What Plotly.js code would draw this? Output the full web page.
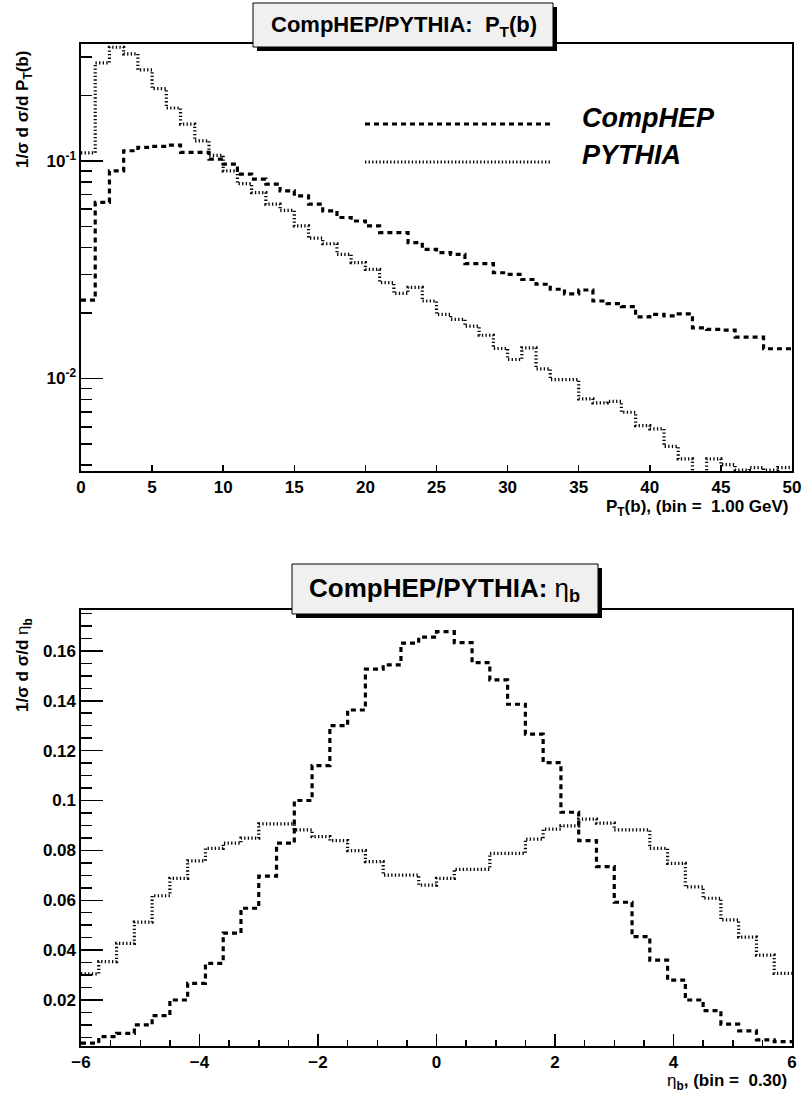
<!DOCTYPE html>
<html>
<head>
<meta charset="utf-8">
<script src="https://cdn.plot.ly/plotly-3.0.1.min.js"></script>
<style>
html,body{margin:0;padding:0;background:#fff;}
#chart{width:802px;height:1096px;}
</style>
</head>
<body>
<div id="chart"></div>
<script>
// ---------- data ----------
// P_T(b) histogram: 50 bins of 1 GeV from 0 to 50
var ptBinLow = 0;
var ptBinWidth = 1;
var comphepPt = [0.0229,0.0644,0.0899,0.1112,0.1153,0.1165,0.1181,0.1093,0.1093,0.1018,
                 0.0966,0.0869,0.0824,0.0781,0.0728,0.0690,0.0632,0.0589,0.0549,0.0529,
                 0.0502,0.0468,0.0468,0.0421,0.0392,0.0379,0.0372,0.0337,0.0337,0.0306,
                 0.0301,0.0285,0.0271,0.0257,0.0245,0.0255,0.0227,0.0221,0.0214,0.0192,
                 0.0197,0.0194,0.0198,0.0171,0.0168,0.0167,0.0155,0.0155,0.0137,0.0137];
var pythiaPt  = [0.1088,0.2816,0.3324,0.3097,0.2615,0.2145,0.1748,0.1475,0.1236,0.1059,
                 0.0899,0.0785,0.0715,0.0632,0.0592,0.0502,0.0441,0.0416,0.0372,0.0341,
                 0.0317,0.0276,0.0246,0.0262,0.0227,0.0197,0.0187,0.0174,0.0158,0.01374,
                 0.01223,0.01384,0.01108,0.00989,0.00989,0.00806,0.00773,0.00786,0.0070,0.00608,
                 0.00587,0.00488,0.00427,0.0036,0.00427,0.00402,0.0038,0.0039,0.0038,0.0039];
// eta_b histogram: 40 bins of 0.30 from -6 to 6
var etaBinLow = -6;
var etaBinWidth = 0.3;
var comphepEta = [0.0027,0.0053,0.0066,0.0100,0.0137,0.0200,0.0267,0.0347,0.0468,0.0568,
                  0.0697,0.0829,0.1000,0.1140,0.1300,0.1363,0.1527,0.1544,0.1631,0.1655,
                  0.1677,0.1633,0.1553,0.1484,0.1386,0.1266,0.1152,0.0953,0.0839,0.0735,
                  0.0592,0.0454,0.0360,0.0280,0.0200,0.0157,0.0103,0.0076,0.0040,0.0033];
var pythiaEta  = [0.0305,0.0354,0.0427,0.0512,0.0618,0.0688,0.0758,0.0808,0.0829,0.0849,
                  0.0906,0.0906,0.0882,0.0855,0.0839,0.0799,0.0755,0.0701,0.0701,0.0661,
                  0.0688,0.0724,0.0724,0.0788,0.0788,0.0845,0.0885,0.0898,0.0925,0.0909,
                  0.0882,0.0882,0.0808,0.0748,0.0654,0.0608,0.0521,0.0452,0.0380,0.0307];
var seriesNames = ['CompHEP','PYTHIA'];
var ptTickVals = [0.01, 0.1];
var ptTickText = ['10<sup>-2</sup>','10<sup>-1</sup>'];
var ptMinorVals = [0.004,0.005,0.006,0.007,0.008,0.009,0.02,0.03,0.04,0.05,0.06,0.07,0.08,0.09,0.2,0.3];

// ---------- helpers ----------
function stepXY(low, width, vals){
  var x = [], y = [];
  for (var i = 0; i < vals.length; i++){ x.push(low + i*width); y.push(vals[i]); }
  x.push(low + vals.length*width); y.push(vals[vals.length-1]);
  return {x:x, y:y};
}
var W = 802, H = 1096;
function px(v){ return v / W; }
function py(v){ return 1 - v / H; }

var FB = 'Liberation Sans, Arial, sans-serif';

var dashStyle = {color:'#000', width:3.2, dash:'5px,4px', shape:'hv'};
var dotStyle  = {color:'#000', width:3.2, dash:'1.3px,2.3px', shape:'hv'};

var a = stepXY(ptBinLow, ptBinWidth, comphepPt);
var b = stepXY(ptBinLow, ptBinWidth, pythiaPt);
var c = stepXY(etaBinLow, etaBinWidth, comphepEta);
var d = stepXY(etaBinLow, etaBinWidth, pythiaEta);

var traces = [
  {x:a.x, y:a.y, xaxis:'x', yaxis:'y', mode:'lines', line:dashStyle, name:seriesNames[0], showlegend:false, hoverinfo:'skip'},
  {x:b.x, y:b.y, xaxis:'x', yaxis:'y', mode:'lines', line:dotStyle, name:seriesNames[1], showlegend:false, hoverinfo:'skip'},
  {x:c.x, y:c.y, xaxis:'x2', yaxis:'y2', mode:'lines', line:dashStyle, name:seriesNames[0], showlegend:false, hoverinfo:'skip'},
  {x:d.x, y:d.y, xaxis:'x2', yaxis:'y2', mode:'lines', line:dotStyle, name:seriesNames[1], showlegend:false, hoverinfo:'skip'}
];

var tickFont = {family:FB, size:17, color:'#000', weight:'bold'};
var axCommon = {showline:true, linecolor:'#000', linewidth:1.6, mirror:true, showgrid:false, zeroline:false,
                ticks:'inside', tickcolor:'#000', tickwidth:1.5, tickfont:tickFont, fixedrange:true};

var xDom = [px(81), px(792)];

var layout = {
  width:W, height:H, margin:{l:0,r:0,t:0,b:0},
  paper_bgcolor:'#fff', plot_bgcolor:'#fff',
  showlegend:false,
  font:{family:FB, color:'#000'},
  xaxis: Object.assign({}, axCommon, {domain:xDom, anchor:'y', range:[0,50], tickmode:'linear', tick0:0, dtick:5, ticklen:6}),
  yaxis: Object.assign({}, axCommon, {domain:[py(471), py(44)], anchor:'x', type:'log',
          range:[Math.log10(0.00376), Math.log10(0.344)], tickmode:'array', tickvals:ptTickVals, ticktext:ptTickText, ticklen:22,
          minor:{tickmode:'array', tickvals:ptMinorVals, ticklen:11, ticks:'inside', tickcolor:'#000', tickwidth:1.5}}),
  xaxis2: Object.assign({}, axCommon, {domain:xDom, anchor:'y2', range:[-6,6], tickmode:'linear', tick0:-6, dtick:2, ticklen:12,
          minor:{dtick:0.5, tick0:-6, ticklen:6, ticks:'inside', tickcolor:'#000', tickwidth:1.5}}),
  yaxis2: Object.assign({}, axCommon, {domain:[py(1046), py(610)], anchor:'x2', range:[0.00155, 0.1764],
          tickmode:'linear', tick0:0, dtick:0.02, ticklen:22,
          minor:{dtick:0.005, tick0:0, ticklen:11, ticks:'inside', tickcolor:'#000', tickwidth:1.5}}),
  shapes: [
    // title box shadows and boxes
    {type:'rect', xref:'paper', yref:'paper', x0:px(257), x1:px(557), y0:py(51), y1:py(7), fillcolor:'#000', line:{width:0}, layer:'above'},
    {type:'rect', xref:'paper', yref:'paper', x0:px(253), x1:px(553), y0:py(47), y1:py(3), fillcolor:'#f0f0f0', line:{color:'#000', width:1}, layer:'above'},
    {type:'rect', xref:'paper', yref:'paper', x0:px(296), x1:px(602), y0:py(618), y1:py(568), fillcolor:'#000', line:{width:0}, layer:'above'},
    {type:'rect', xref:'paper', yref:'paper', x0:px(292), x1:px(598), y0:py(614), y1:py(564), fillcolor:'#f0f0f0', line:{color:'#000', width:1}, layer:'above'},
    // legend samples
    {type:'line', xref:'paper', yref:'paper', x0:px(365), x1:px(552), y0:py(124), y1:py(124), line:{color:'#000', width:3.2, dash:'5px,4px'}},
    {type:'line', xref:'paper', yref:'paper', x0:px(365), x1:px(552), y0:py(162), y1:py(162), line:{color:'#000', width:3.2, dash:'1.3px,2.3px'}}
  ],
  annotations: [
    {xref:'paper', yref:'paper', x:px(404), y:py(26), xanchor:'center', yanchor:'middle', showarrow:false,
     text:'<b>CompHEP/PYTHIA:  P<sub>T</sub>(b)</b>', font:{family:FB, size:22, color:'#000'}},
    {xref:'paper', yref:'paper', x:px(444), y:py(589), xanchor:'center', yanchor:'middle', showarrow:false,
     text:'<b>CompHEP/PYTHIA:</b> η<sub><b>b</b></sub>', font:{family:FB, size:26, color:'#000'}},
    {xref:'paper', yref:'paper', x:px(580), y:py(118), xanchor:'left', yanchor:'middle', showarrow:false,
     text:'<i><b>'+seriesNames[0]+'</b></i>', font:{family:FB, size:27, color:'#000'}},
    {xref:'paper', yref:'paper', x:px(580), y:py(155), xanchor:'left', yanchor:'middle', showarrow:false,
     text:'<i><b>'+seriesNames[1]+'</b></i>', font:{family:FB, size:27, color:'#000'}},
    {xref:'paper', yref:'paper', x:px(24), y:py(110), xanchor:'center', yanchor:'middle', showarrow:false, textangle:-90,
     text:'<b>1/σ d σ/d P<sub>T</sub>(b)</b>', font:{family:FB, size:17, color:'#000'}},
    {xref:'paper', yref:'paper', x:px(24), y:py(665), xanchor:'center', yanchor:'middle', showarrow:false, textangle:-90,
     text:'<b>1/σ d σ/d </b>η<sub><b>b</b></sub>', font:{family:FB, size:17, color:'#000'}},
    {xref:'paper', yref:'paper', x:px(791), y:py(508), xanchor:'right', yanchor:'middle', showarrow:false,
     text:'<b>P<sub>T</sub>(b), (bin =  1.00 GeV)</b>', font:{family:FB, size:17, color:'#000'}},
    {xref:'paper', yref:'paper', x:px(789), y:py(1082), xanchor:'right', yanchor:'middle', showarrow:false,
     text:'η<sub><b>b</b></sub><b>, (bin =  0.30)</b>', font:{family:FB, size:17, color:'#000'}}
  ]
};

Plotly.newPlot('chart', traces, layout, {displayModeBar:false, staticPlot:true});
</script>
</body>
</html>
